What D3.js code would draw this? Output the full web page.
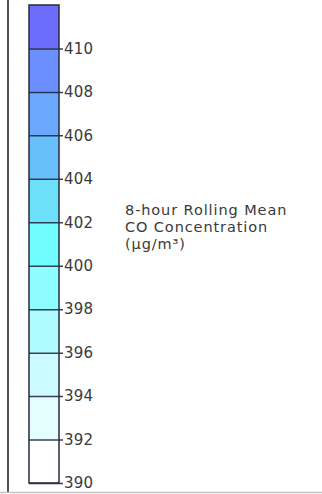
<!DOCTYPE html>
<html>
<head>
<meta charset="utf-8">
<script src="https://cdn.jsdelivr.net/npm/d3@7"></script>
<style>
  html, body { margin: 0; padding: 0; background: #ffffff; }
  svg { display: block; }
</style>
</head>
<body>
<svg id="chart" width="322" height="494"></svg>
<script>
// Colour bins of the legend (lower edge of each band, bottom to top)
const binStarts = [390, 392, 394, 396, 398, 400, 402, 404, 406, 408, 410];
const binWidth = 2;
const binColors = ["#ffffff", "#e4fdfe", "#cbfbfe", "#adfbfe", "#8dfdfe",
                   "#6ffdfd", "#6ce0f9", "#68c0fa", "#6aa8fe", "#6b8ffe", "#6c6cfd"];
const tickValues = [390, 392, 394, 396, 398, 400, 402, 404, 406, 408, 410];
const titleLines = ["8-hour Rolling Mean", "CO Concentration", "(\u00b5g/m\u00b3)"];

const svg = d3.select("#chart");
const fontFamily = "'DejaVu Sans', sans-serif";

// frame edges
svg.append("line").attr("x1", 8).attr("x2", 8).attr("y1", 0).attr("y2", 492)
  .attr("stroke", "#1a1a1a").attr("stroke-width", 1.5);
svg.append("line").attr("x1", 0).attr("x2", 322).attr("y1", 492.5).attr("y2", 492.5)
  .attr("stroke", "#c4c4c4").attr("stroke-width", 1.5);

const barX = 29, barW = 30;
const y = d3.scaleLinear().domain([390, 412]).range([483, 5]);

const bar = svg.append("g");
bar.selectAll("rect").data(binStarts).join("rect")
  .attr("x", barX)
  .attr("width", barW)
  .attr("y", d => y(d + binWidth))
  .attr("height", d => y(d) - y(d + binWidth))
  .attr("fill", (d, i) => binColors[i]);

// axis: tick lines run across the bar and stick out to the right
const axis = d3.axisRight(y)
  .tickValues(tickValues)
  .tickSize(barW + 4)
  .tickPadding(1)
  .tickFormat(d3.format("d"));

const ag = svg.append("g").attr("transform", `translate(${barX},0)`).call(axis);
ag.select(".domain").remove();
ag.selectAll(".tick line").attr("stroke", "#1b1f3a").attr("stroke-opacity", 0.85).attr("stroke-width", 1.5);
ag.selectAll(".tick text")
  .attr("font-family", fontFamily)
  .attr("font-size", 15)
  .attr("letter-spacing", 0.2)
  .attr("fill", "#3a3a3a");

// bar outline
svg.append("rect")
  .attr("x", barX).attr("y", y(412))
  .attr("width", barW).attr("height", y(390) - y(412))
  .attr("fill", "none").attr("stroke", "#2a2a3a").attr("stroke-width", 1.5);

// colour bar title
svg.append("text")
  .attr("font-family", fontFamily)
  .attr("font-size", 14.5)
  .attr("letter-spacing", 0.9)
  .attr("fill", "#3a3a3a")
  .selectAll("tspan").data(titleLines).join("tspan")
  .attr("x", 125)
  .attr("y", (d, i) => 215 + i * 17)
  .text(d => d);
</script>
</body>
</html>
